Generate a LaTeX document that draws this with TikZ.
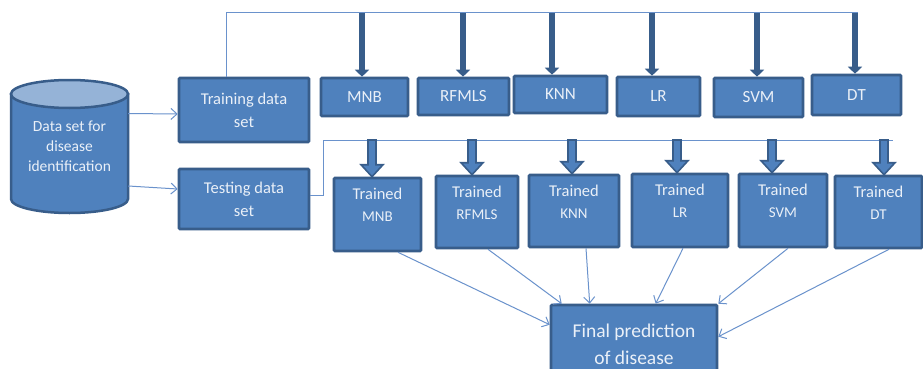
\documentclass[tikz,border=0pt]{standalone}
\usepackage{fontspec}
\setmainfont{Carlito}
\usetikzlibrary{calc,arrows.meta}
\definecolor{mid}{HTML}{4F81BD}
\definecolor{dark}{HTML}{385D8A}
\definecolor{light}{HTML}{95B3D7}
\definecolor{thin}{HTML}{6A92CC}
\definecolor{txt}{HTML}{EAF0F8}
\tikzset{
  box/.style={rectangle, fill=mid, draw=dark, line width=2.6pt, rounded corners=1pt, text=txt, align=center, inner sep=0pt, font=\fontsize{16.5}{23}\selectfont},
  topbox/.style={box, font=\fontsize{17}{20}\selectfont},
  tlab/.style={text=txt, align=center, font=\fontsize{16.5}{22}\selectfont},
  busline/.style={draw=thin, line width=1pt},
  thickarrow/.style={draw=dark, line width=6pt, -{Triangle[length=7pt,width=14pt]}},
  blockarrow/.style={fill=mid, draw=dark, line width=1.6pt, line join=miter},
  thinarrow/.style={draw=thin, line width=1pt, -{Straight Barb[length=6pt,width=11pt]}},
}
\begin{document}
\begin{tikzpicture}[x=1pt,y=-1pt]
\useasboundingbox (0,0) rectangle (923,369);
\clip (0,0) rectangle (923,369);
\fill[white] (0,0) rectangle (923,369);

% cylinder
\filldraw[fill=mid, draw=dark, line width=2.5pt] (11,94) -- (11,199) arc[start angle=180, end angle=0, x radius=58.5, y radius=14] -- (128,94) -- cycle;
\filldraw[fill=light, draw=dark, line width=2.5pt] (69.5,94) ellipse [x radius=58.5, y radius=14];
\node[minimum width=117pt, minimum height=134pt, text=txt, align=center, font=\fontsize{15.5}{20}\selectfont, inner sep=0pt] (db) at (69.5,146.5) {Data set for\\disease\\identification};

% training / testing
\node[box, minimum width=130pt, minimum height=64pt] (train) at (244,110) {Training data\\set};
\node[box, minimum width=130pt, minimum height=60pt] (test) at (244,199) {Testing data\\set};

\draw[thinarrow] ([yshift=33pt]db.east) -- ([yshift=-4pt]train.west);
\draw[thinarrow] ([yshift=-39.5pt]db.east) -- ([yshift=10pt]test.west);

% top classifiers
\node[topbox, minimum width=87pt, minimum height=38pt] (mnb) at (364.5,97) {MNB};
\node[topbox, minimum width=91pt, minimum height=37pt] (rf) at (463.5,96.5) {RFMLS};
\node[topbox, minimum width=93pt, minimum height=37pt] (knn) at (560.5,94.5) {KNN};
\node[topbox, minimum width=83pt, minimum height=39pt] (lr) at (658.5,96.5) {LR};
\node[topbox, minimum width=89pt, minimum height=39pt] (svm) at (758.5,97.5) {SVM};
\node[topbox, minimum width=89pt, minimum height=40pt] (dt) at (856.5,95) {DT};

% bus 1
\coordinate (bus1end) at (858,13);
\draw[busline] ([xshift=-18pt]train.north) |- (bus1end);
\coordinate (a1) at (362,13);
\coordinate (a2) at (463,13);
\coordinate (a3) at (552,13);
\coordinate (a4) at (652,13);
\coordinate (a5) at (757,13);
\coordinate (a6) at (855,13);
\foreach \c/\n in {a1/mnb,a2/rf,a3/knn,a4/lr,a5/svm,a6/dt}{
  \draw[thickarrow] (\c) -- (\c |- \n.north);
}

% trained boxes
\node[box, minimum width=87pt, minimum height=73pt] (tmnb) at (377.5,214.5) {};
\node[box, minimum width=82pt, minimum height=72pt] (trf) at (477,212) {};
\node[box, minimum width=90pt, minimum height=72pt] (tknn) at (574,211) {};
\node[box, minimum width=96pt, minimum height=73pt] (tlr) at (680,210.5) {};
\node[box, minimum width=88pt, minimum height=73pt] (tsvm) at (783,210.5) {};
\node[box, minimum width=87pt, minimum height=72pt] (tdt) at (878.5,212) {};
\foreach \n/\t in {tmnb/MNB,trf/RFMLS,tknn/KNN,tlr/LR,tsvm/SVM,tdt/DT}{
  \node[tlab, anchor=north] (\n lab) at ([yshift=-8pt]\n.north) {Trained\\{\fontsize{15}{17}\selectfont\t}};
}

% bus 2
\coordinate (bus2corner) at (323,140);
\coordinate (bus2end) at (893,140);
\draw[busline] ([yshift=4pt]test.east) -| (bus2corner) -- (bus2end);
\coordinate (b1) at (372,140);
\coordinate (b2) at (472,140);
\coordinate (b3) at (572,140);
\coordinate (b4) at (677,140);
\coordinate (b5) at (772,140);
\coordinate (b6) at (884,140);
\foreach \c/\n in {b1/tmnb,b2/trf,b3/tknn,b4/tlr,b5/tsvm,b6/tdt}{
  \coordinate (tip) at (\c |- \n.north);
  \filldraw[blockarrow] ($(\c)+(-4,0)$) -- ($(tip)+(-4,-12)$) -- ($(tip)+(-11,-12)$) -- (tip) -- ($(tip)+(11,-12)$) -- ($(tip)+(4,-12)$) -- ($(\c)+(4,0)$) -- cycle;
}

% final
\node[box, minimum width=166pt, minimum height=78pt, font=\fontsize{19.5}{27}\selectfont] (final) at (634,344) {Final prediction\\of disease};

\draw[thinarrow] ([xshift=20.5pt]tmnb.south) -- ([yshift=-21pt]final.north west);
\draw[thinarrow] ([xshift=11pt]trf.south) -- ([xshift=12pt]final.north west);
\draw[thinarrow] ([xshift=12pt]tknn.south) -- ([xshift=40pt]final.north west);
\draw[thinarrow] ([xshift=3pt]tlr.south) -- ([xshift=106pt]final.north west);
\draw[thinarrow] ([xshift=5pt]tsvm.south) -- (final.north east);
\draw[thinarrow] ([xshift=10.5pt]tdt.south) -- ([yshift=-33pt]final.north east);
\end{tikzpicture}
\end{document}
